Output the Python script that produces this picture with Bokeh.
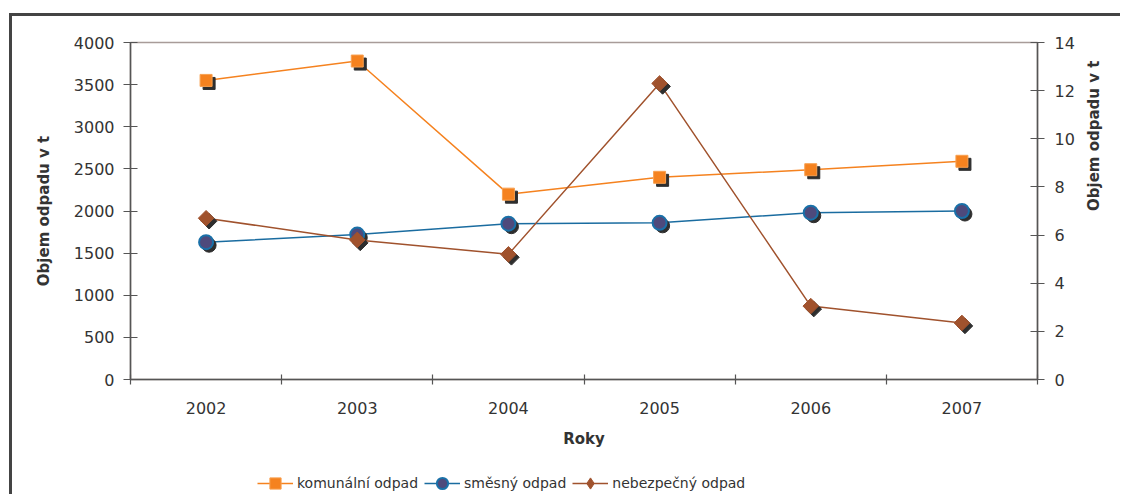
import math
from bokeh.plotting import figure
from bokeh.layouts import column
from bokeh.models import Range1d, LinearAxis, FixedTicker, ColumnDataSource, Legend, LegendItem
from bokeh.transform import dodge
from bokeh.embed import file_html
from bokeh.resources import INLINE

# ---- data ----
years = [2002, 2003, 2004, 2005, 2006, 2007]
komunalni = [3550, 3780, 2200, 2400, 2490, 2590]      # left axis
smesny = [1630, 1720, 1850, 1860, 1980, 2000]          # left axis
nebezpecny = [6.7, 5.8, 5.2, 12.3, 3.05, 2.35]         # right axis
left_ticks = [0, 500, 1000, 1500, 2000, 2500, 3000, 3500, 4000]
right_ticks = [0, 2, 4, 6, 8, 10, 12, 14]
series_names = ["komunální odpad", "směsný odpad", "nebezpečný odpad"]
cat_bounds = [y - 0.5 for y in years] + [years[-1] + 0.5]

FONT = "DejaVu Sans"
TXT = "#333333"
AX = "#555555"
SH = "#2E2E2E"
C_K, C_S, C_N = "#F5821F", "#1A6CA0", "#A0522D"

src = ColumnDataSource(dict(x=years, k=komunalni, s=smesny, n=nebezpecny))

p = figure(width=1111, height=450, x_range=Range1d(cat_bounds[0], cat_bounds[-1]),
           y_range=Range1d(0, 4000), output_backend="svg", toolbar_location=None,
           min_border_left=118, min_border_right=86, min_border_top=26, min_border_bottom=87)
p.extra_y_ranges = {"r": Range1d(0, 14)}
p.xgrid.visible = False
p.ygrid.visible = False
p.outline_line_color = "#A89C99"
p.outline_line_width = 1.5
p.background_fill_color = "white"
p.border_fill_color = "white"

def style_axis(ax):
    ax.axis_line_color = AX
    ax.axis_line_width = 1.5
    ax.major_tick_line_color = AX
    ax.minor_tick_line_color = AX
    ax.major_tick_line_width = 1.2
    ax.minor_tick_line_width = 1.2
    ax.major_label_text_font = FONT
    ax.major_label_text_font_size = "16px"
    ax.major_label_text_color = TXT
    ax.axis_label_text_font = FONT
    ax.axis_label_text_font_size = "15px"
    ax.axis_label_text_font_style = "bold"
    ax.axis_label_text_color = TXT

# x axis
xa = p.xaxis[0]
style_axis(xa)
xa.ticker = FixedTicker(ticks=years, minor_ticks=cat_bounds)
xa.major_tick_in = 0
xa.major_tick_out = 0
xa.minor_tick_in = 5
xa.minor_tick_out = 5
xa.major_label_standoff = 17
xa.axis_label = "Roky"
xa.axis_label_standoff = 13

# left axis
ya = p.yaxis[0]
style_axis(ya)
ya.ticker = FixedTicker(ticks=left_ticks)
ya.major_tick_in = 7
ya.major_tick_out = 7
ya.minor_tick_in = 0
ya.minor_tick_out = 0
ya.major_label_standoff = 9
ya.axis_label = "Objem odpadu v t"
ya.axis_label_standoff = 18

# right axis
ra = LinearAxis(y_range_name="r", ticker=FixedTicker(ticks=right_ticks))
style_axis(ra)
ra.major_tick_in = 7
ra.major_tick_out = 7
ra.minor_tick_in = 0
ra.minor_tick_out = 0
ra.major_label_standoff = 10
ra.axis_label = "Objem odpadu v t"
ra.axis_label_standoff = 16
ra.axis_label_orientation = math.pi / 2
p.add_layout(ra, "right")

# komunalni
p.line("x", "k", source=src, line_color=C_K, line_width=1.5)
p.scatter(dodge("x", 0.02), dodge("k", -36), source=src, marker="square", size=12,
          fill_color=SH, line_color=SH)
p.scatter("x", "k", source=src, marker="square", size=12,
          fill_color=C_K, line_color="#F8A050", line_width=1)
# smesny
p.line("x", "s", source=src, line_color=C_S, line_width=1.5)
p.scatter(dodge("x", 0.02), dodge("s", -36), source=src, marker="circle", size=14,
          fill_color=SH, line_color=SH)
p.scatter("x", "s", source=src, marker="circle", size=14,
          fill_color="#4E4A7C", line_color="#1A70A8", line_width=2)
# nebezpecny
p.line("x", "n", source=src, y_range_name="r", line_color=C_N, line_width=1.5)
p.scatter(dodge("x", 0.02), dodge("n", -0.125), source=src, y_range_name="r",
          marker="square", angle=math.pi / 4, size=11, fill_color=SH, line_color=SH)
p.scatter("x", "n", source=src, y_range_name="r", marker="square", angle=math.pi / 4,
          size=11, fill_color=C_N, line_color=C_N)

# ---- legend strip below the chart (same series, drawn outside its own view) ----
lg = figure(width=1111, height=31, x_range=Range1d(0, 1), y_range=Range1d(0, 1),
            output_backend="svg", toolbar_location=None, x_axis_location=None,
            y_axis_location=None, min_border=0)
lg.xgrid.visible = False
lg.ygrid.visible = False
lg.outline_line_color = None
lg.border_fill_color = "white"
r1 = lg.line("x", "k", source=src, line_color=C_K, line_width=1.5)
r1m = lg.scatter("x", "k", source=src, marker="square", fill_color=C_K,
                 line_color="#F8A050")
r2 = lg.line("x", "s", source=src, line_color=C_S, line_width=1.5)
r2m = lg.scatter("x", "s", source=src, marker="circle", fill_color="#4E4A7C",
                 line_color="#1A70A8", line_width=2)
r3 = lg.line("x", "n", source=src, line_color=C_N, line_width=1.5)
r3m = lg.scatter("x", "n", source=src, marker="diamond",
                 fill_color=C_N, line_color=C_N)
legend = Legend(items=[LegendItem(label=series_names[0], renderers=[r1, r1m]),
                       LegendItem(label=series_names[1], renderers=[r2, r2m]),
                       LegendItem(label=series_names[2], renderers=[r3, r3m])],
                orientation="horizontal", location=(127, 0))
legend.label_text_font = FONT
legend.label_text_font_size = "14px"
legend.label_text_color = TXT
legend.glyph_width = 36
legend.glyph_height = 28
legend.label_height = 14
legend.label_standoff = 4
legend.spacing = 6
legend.padding = 0
legend.margin = 0
legend.border_line_color = None
legend.background_fill_alpha = 0
lg.add_layout(legend)

layout = column(p, lg, spacing=0)
layout.margin = (16, 0, 0, 12)
layout.styles = {"box-shadow": "-3px -3px 0 0 #444444"}

open("out.html", "w").write(file_html(layout, INLINE))
